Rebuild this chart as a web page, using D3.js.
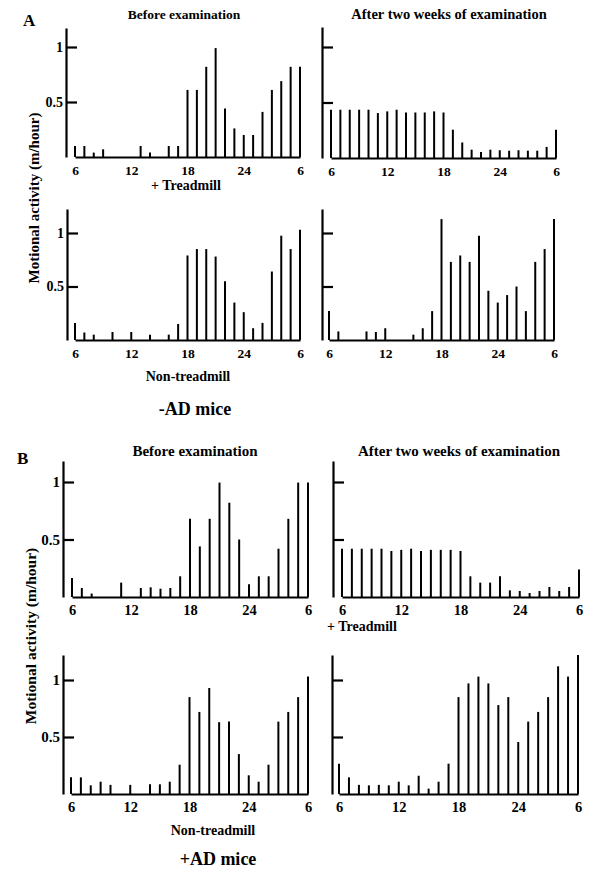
<!DOCTYPE html>
<html>
<head>
<meta charset="utf-8">
<script src="https://cdn.jsdelivr.net/npm/d3@7"></script>
<style>
    body { margin: 0; background: #fff; }
    text { font-family: "Liberation Serif", "DejaVu Serif", serif; font-weight: bold; fill: #000; }
</style>
</head>
<body>
<div id="chart"></div>
<script>
// hours of the day, 6 am to 6 am next day
var hours = [6, 7, 8, 9, 10, 11, 12, 13, 14, 15, 16, 17, 18, 19, 20, 21, 22, 23, 24, 25, 26, 27, 28, 29, 30];
var hourTicks = [6, 12, 18, 24, 30];
var hourTickLabels = ['6', '12', '18', '24', '6'];
var yTicks = [0.5, 1];

// -AD mice
var aTreadBefore = [0.1, 0.1, 0.04, 0.07, null, null, null, 0.1, 0.04, null, 0.1, 0.1, 0.61, 0.61, 0.82, 0.99, 0.44, 0.26, 0.2, 0.2, 0.41, 0.61, 0.69, 0.82, 0.82];
var aTreadAfter = [0.435, 0.435, 0.435, 0.435, 0.435, 0.405, 0.42, 0.435, 0.41, 0.41, 0.41, 0.42, 0.41, 0.255, 0.14, 0.075, 0.054, 0.075, 0.07, 0.066, 0.07, 0.066, 0.066, 0.1, 0.255];
var aNonBefore = [0.16, 0.07, 0.05, null, 0.075, null, 0.075, null, 0.05, null, 0.05, 0.15, 0.79, 0.85, 0.85, 0.78, 0.55, 0.35, 0.26, 0.11, 0.16, 0.64, 0.975, 0.85, 1.03];
var aNonAfter = [0.27, 0.08, null, null, 0.08, 0.075, 0.11, null, null, 0.05, 0.11, 0.27, 1.13, 0.73, 0.79, 0.73, 0.975, 0.46, 0.35, 0.42, 0.5, 0.27, 0.73, 0.85, 1.13];

// +AD mice
var bTreadBefore = [0.165, 0.078, 0.03, null, null, 0.125, null, 0.078, 0.084, 0.072, 0.078, 0.18, 0.68, 0.44, 0.68, 0.995, 0.82, 0.5, 0.11, 0.18, 0.18, 0.42, 0.68, 0.995, 0.995];
var bTreadAfter = [0.42, 0.42, 0.42, 0.42, 0.42, 0.4, 0.41, 0.42, 0.4, 0.41, 0.41, 0.41, 0.4, 0.18, 0.125, 0.125, 0.18, 0.058, 0.052, 0.035, 0.052, 0.087, 0.052, 0.087, 0.24];
var bNonBefore = [0.146, 0.146, 0.076, 0.108, 0.08, null, 0.08, null, 0.085, 0.085, 0.108, 0.257, 0.85, 0.72, 0.93, 0.63, 0.635, 0.35, 0.164, 0.108, 0.257, 0.635, 0.72, 0.85, 1.03];
var bNonAfter = [0.266, 0.146, 0.08, 0.076, 0.08, 0.076, 0.108, 0.076, 0.16, 0.047, 0.108, 0.266, 0.85, 0.97, 1.03, 0.97, 0.78, 0.85, 0.456, 0.635, 0.72, 0.85, 1.12, 1.03, 1.22];

var svg = d3.select('#chart').append('svg')
    .attr('width', 600)
    .attr('height', 872);

// panel boxes: axis x, first/last bar x, baseline y, y of 1.0, top of axis
var panels = [
    {values: aTreadBefore, axisX: 66, x0: 75, x1: 300, base: 157, one: 47, top: 28, labels: true, font: 13.5},
    {values: aTreadAfter, axisX: 322, x0: 331, x1: 556, base: 158, one: 47, top: 27, labels: false, font: 13.5},
    {values: aNonBefore, axisX: 67, x0: 75, x1: 300, base: 340, one: 233, top: 209, labels: true, font: 13.5},
    {values: aNonAfter, axisX: 322, x0: 329, x1: 554, base: 340, one: 233, top: 209, labels: false, font: 13.5},
    {values: bTreadBefore, axisX: 63, x0: 72, x1: 308, base: 597, one: 482, top: 461, labels: true, font: 14.5},
    {values: bTreadAfter, axisX: 333, x0: 342, x1: 579, base: 597, one: 482, top: 461, labels: false, font: 14.5},
    {values: bNonBefore, axisX: 63, x0: 71, x1: 308, base: 794, one: 680, top: 655, labels: true, font: 14.5},
    {values: bNonAfter, axisX: 332, x0: 339, x1: 578, base: 794, one: 680, top: 655, labels: false, font: 14.5}
];

panels.forEach(function(p) {
    drawPanel(p);
});

// texts
addText('A', 23, 26, 17, 'start');
addText('B', 17, 464, 17, 'start');
addText('Before examination', 184, 19, 13.5, 'middle');
addText('After two weeks of examination', 449, 19, 14.5, 'middle');
addText('Before examination', 195, 456, 15, 'middle');
addText('After two weeks of examination', 459, 456, 15, 'middle');
addText('+ Treadmill', 186, 190, 14, 'middle');
addText('Non-treadmill', 188, 381, 14, 'middle');
addText('-AD mice', 195, 415, 18, 'middle');
addText('+ Treadmill', 362, 631, 14, 'middle');
addText('Non-treadmill', 213, 835, 14, 'middle');
addText('+AD mice', 218, 865, 18, 'middle');

yLabel(34, 198, 15);
yLabel(31, 636, 15.5);



// helpers

function drawPanel(p) {
    var g = svg.append('g');
    var x = d3.scaleLinear().domain([6, 30]).range([p.x0, p.x1]);
    var y = d3.scaleLinear().domain([0, 1]).range([p.base, p.one]);
    y.domain([0, y.invert(p.top)]).range([p.base, p.top]);

    var yAxis = d3.axisLeft(y)
        .tickValues(yTicks)
        .tickSizeInner(-11)
        .tickSizeOuter(0)
        .tickPadding(3)
        .tickFormat(p.labels ? d3.format('') : '');
    var ya = g.append('g')
        .attr('transform', 'translate(' + p.axisX + ',0)')
        .call(yAxis);
    ya.select('.domain').attr('stroke-width', 2.2);
    ya.selectAll('.tick line').attr('stroke-width', 2.2);
    ya.selectAll('.tick text').style('font-size', (p.font + 0.5) + 'px').attr('fill', '#000');

    var xAxis = d3.axisBottom(x)
        .tickValues(hourTicks)
        .tickSize(0)
        .tickPadding(8)
        .tickFormat(function(d, i) { return hourTickLabels[i]; });
    var xa = g.append('g')
        .attr('transform', 'translate(0,' + p.base + ')')
        .call(xAxis);
    xa.select('.domain').attr('stroke-width', 2.2);
    xa.selectAll('.tick text').style('font-size', p.font + 'px').attr('fill', '#000');

    var data = hours.map(function(h, i) {
        return {hour: h, value: p.values[i]};
    }).filter(function(d) { return d.value != null; });

    g.selectAll('line.bar').data(data).enter().append('line')
        .attr('class', 'bar')
        .attr('x1', function(d) { return x(d.hour); })
        .attr('x2', function(d) { return x(d.hour); })
        .attr('y1', y(0))
        .attr('y2', function(d) { return y(d.value); })
        .attr('stroke', '#000')
        .attr('stroke-width', 2);
}

function addText(t, x, y, size, anchor) {
    svg.append('text')
        .attr('x', x)
        .attr('y', y)
        .attr('text-anchor', anchor)
        .style('font-size', size + 'px')
        .text(t);
}

function yLabel(x, y, size) {
    svg.append('text')
        .attr('transform', 'translate(' + x + ',' + y + ') rotate(-90)')
        .attr('text-anchor', 'middle')
        .attr('dy', '0.35em')
        .style('font-size', size + 'px')
        .text('Motional activity (m/hour)');
}
</script>
</body>
</html>
